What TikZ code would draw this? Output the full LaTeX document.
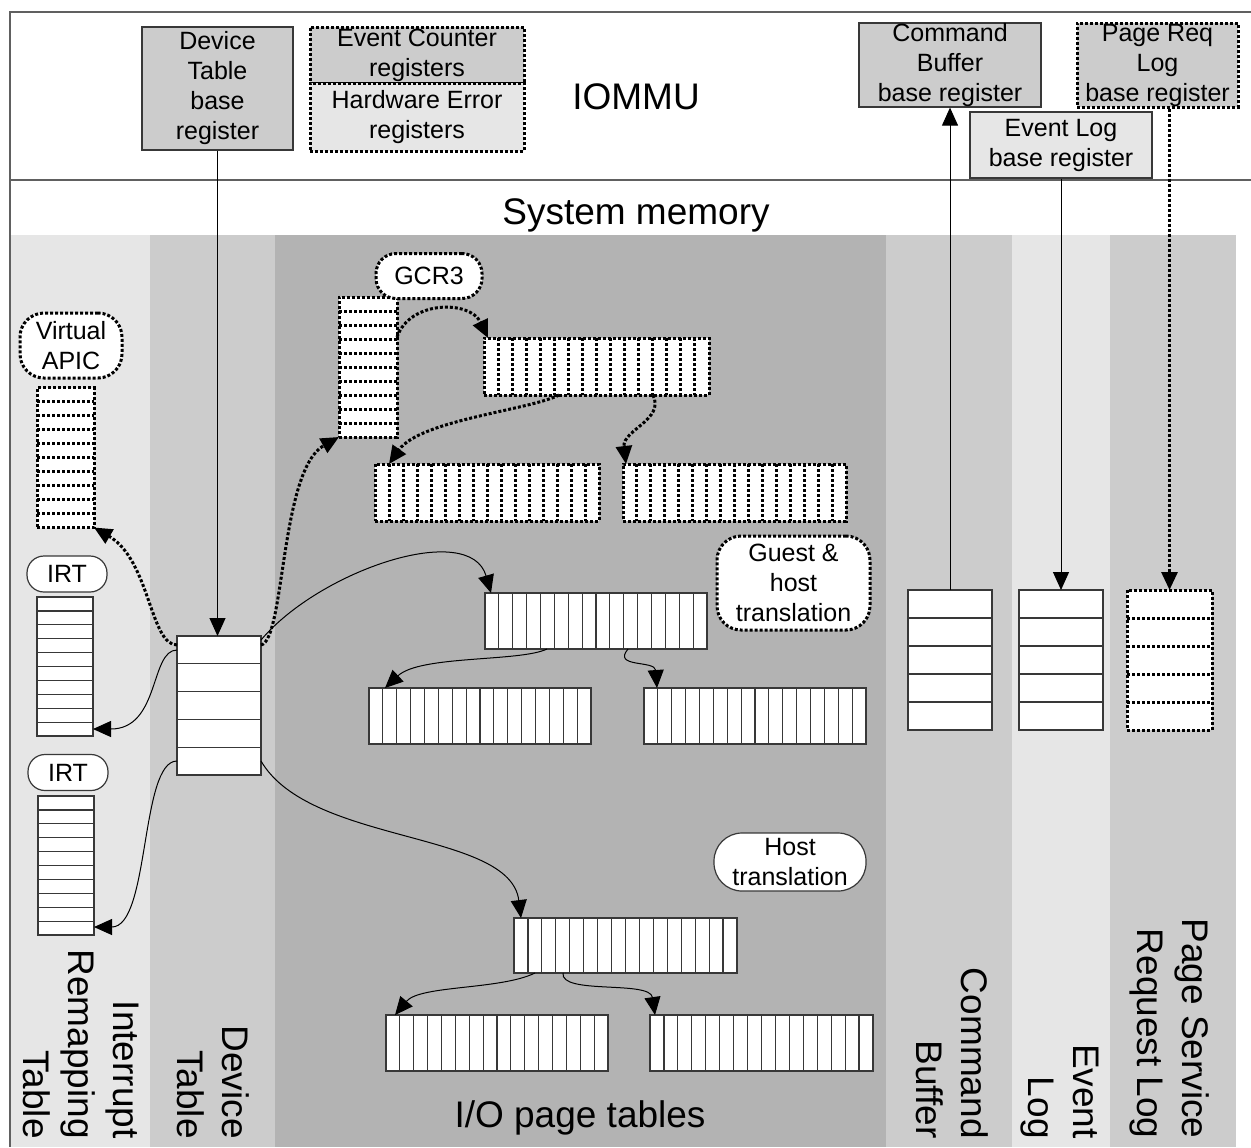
\documentclass[tikz,border=0pt]{standalone}
\usepackage{fontspec}
\setmainfont{Liberation Sans}
\usetikzlibrary{arrows.meta,calc}
\definecolor{cA}{HTML}{E6E6E6}
\definecolor{cB}{HTML}{CCCCCC}
\definecolor{cC}{HTML}{B3B3B3}
\definecolor{bord}{HTML}{383838}
\definecolor{frame}{HTML}{606060}
\tikzset{
  smalltxt/.style={font=\fontsize{12.5}{15}\selectfont, align=center},
  bigtxt/.style={font=\fontsize{18.5}{22.5}\selectfont},
  sline/.style={draw=bord, line width=0.6pt},
  dotline/.style={draw=black, line width=1.5pt, dash pattern=on 1.5pt off 1pt},
  regbox/.style={sline, inner sep=0pt},
  dregbox/.style={dotline, inner sep=0pt},
  tbl/.style={sline, fill=white, inner sep=0pt, outer sep=0pt},
  dtbl/.style={dotline, fill=white, inner sep=0pt, outer sep=0pt},
  rows/.style n args={2}{path picture={
    \foreach \i [evaluate=\i as \fr using \i/(#1+1)] in {1,...,#1}{
      \draw[#2] ($(path picture bounding box.north west)!\fr!(path picture bounding box.south west)$) --
                ($(path picture bounding box.north east)!\fr!(path picture bounding box.south east)$);}}},
  cols/.style n args={2}{path picture={
    \foreach \i [evaluate=\i as \fr using \i/(#1+1)] in {1,...,#1}{
      \draw[#2] ($(path picture bounding box.north west)!\fr!(path picture bounding box.north east)$) --
                ($(path picture bounding box.south west)!\fr!(path picture bounding box.south east)$);}}},
  bubble/.style={sline, fill=white, smalltxt, inner sep=0pt},
  dbubble/.style={dotline, fill=white, smalltxt, inner sep=0pt},
  conn/.style={draw=black, line width=0.5pt, -{Triangle[length=9pt,width=8pt]}},
  dconn/.style={dotline, -{Triangle[length=9pt,width=8pt]}},
  vlabel/.style={bigtxt, rotate=-90, anchor=east, align=right, inner sep=0pt},
}
\begin{document}
\begin{tikzpicture}[x=0.5pt,y=-0.5pt]
\useasboundingbox (0,0) rectangle (1251,1147);
% memory bands
\fill[cA] (10,235) rectangle (150,1147);
\fill[cB] (150,235) rectangle (275,1147);
\fill[cC] (275,235) rectangle (886,1147);
\fill[cB] (886,235) rectangle (1012,1147);
\fill[cA] (1012,235) rectangle (1110,1147);
\fill[cB] (1110,235) rectangle (1236,1147);
% frame
\draw[draw=frame, line width=0.6pt] (1251,12) -- (10,12) -- (10,1147);
\draw[draw=frame, line width=0.6pt] (10,180) -- (1251,180);
% titles
\node[bigtxt] (iommu) at (636,97) {IOMMU};
\node[bigtxt] (sysmem) at (636,215) {System memory};
\node[bigtxt] (iopt) at (580,1118) {I/O page tables};
% IOMMU registers
\node[regbox, fill=cB, minimum width=75.5pt, minimum height=61.5pt,
  label={[smalltxt]center:Device\\Table\\base\\register}] (dtb) at (217.5,88.5) {};
\node[dregbox, fill=cB, minimum width=107pt, minimum height=28pt,
  label={[smalltxt]center:Event Counter\\registers}] (ecr) at (417,55) {};
\node[dregbox, fill=cA, minimum width=107pt, minimum height=34pt,
  label={[smalltxt]center:Hardware Error\\registers}] (her) at (417,117) {};
\node[regbox, fill=cB, minimum width=91pt, minimum height=42pt,
  label={[smalltxt]center:Command\\Buffer\\base register}] (cbb) at (950,65) {};
\node[dregbox, fill=cB, minimum width=80.5pt, minimum height=42pt,
  label={[smalltxt]center:Page Req\\Log\\base register}] (prl) at (1157.5,65) {};
\node[regbox, fill=cA, minimum width=91pt, minimum height=33pt,
  label={[smalltxt]center:Event Log\\base register}] (elb) at (1061,145) {};
% tables
\node[dtbl, rows={9}{dotline}, minimum width=28.5pt, minimum height=70pt] (vapic) at (65.5,457.5) {};
\node[tbl, rows={9}{sline}, minimum width=28pt, minimum height=69.5pt] (irta) at (65,666.5) {};
\node[tbl, rows={9}{sline}, minimum width=28pt, minimum height=69.5pt] (irtb) at (66,865.5) {};
\node[tbl, rows={4}{sline}, minimum width=42pt, minimum height=69.5pt] (dt) at (219,705.5) {};
\node[dtbl, rows={9}{dotline}, minimum width=29pt, minimum height=70pt] (gcr) at (368,367) {};
\node[dtbl, cols={15}{dotline}, minimum width=112.5pt, minimum height=28.5pt] (gpt) at (596.5,366.5) {};
\node[dtbl, cols={15}{dotline}, minimum width=112pt, minimum height=28.5pt] (gpl) at (487,492.5) {};
\node[dtbl, cols={15}{dotline}, minimum width=111.5pt, minimum height=28.5pt] (gpr) at (734.5,492.5) {};
\node[tbl, cols={15}{sline}, minimum width=111pt, minimum height=28pt] (spt) at (596,621) {};
\node[tbl, cols={15}{sline}, minimum width=111pt, minimum height=28pt] (spl) at (480,716) {};
\node[tbl, cols={15}{sline}, minimum width=111pt, minimum height=28pt] (spr) at (755,716) {};
\node[tbl, cols={15}{sline}, minimum width=111.5pt, minimum height=27.5pt] (hpt) at (625.5,945.5) {};
\node[tbl, cols={15}{sline}, minimum width=111pt, minimum height=28pt] (hpl) at (497,1043) {};
\node[tbl, cols={15}{sline}, minimum width=111.5pt, minimum height=28pt] (hpr) at (761.5,1043) {};
\node[tbl, rows={4}{sline}, minimum width=42pt, minimum height=70pt] (cbt) at (950,660) {};
\node[tbl, rows={4}{sline}, minimum width=42pt, minimum height=70pt] (elt) at (1061,660) {};
\node[dtbl, rows={4}{dotline}, minimum width=42.5pt, minimum height=70pt] (ppr) at (1169.5,660) {};
% bubbles
\node[dbubble, rounded corners=12pt, minimum width=51pt, minimum height=32.5pt] (vapl) at (71,345.5) {Virtual\\APIC};
\node[bubble, rounded corners=8.5pt, minimum width=40pt, minimum height=18pt] (irtla) at (67,574) {IRT};
\node[bubble, rounded corners=8.5pt, minimum width=40pt, minimum height=18pt] (irtlb) at (68,772.5) {IRT};
\node[dbubble, rounded corners=10pt, minimum width=53pt, minimum height=22.5pt] (gcrl) at (429,276) {GCR3};
\node[dbubble, rounded corners=12pt, minimum width=76.5pt, minimum height=47pt] (ghl) at (793.5,583) {Guest \&\\host\\translation};
\node[bubble, rounded corners=14pt, minimum width=76pt, minimum height=29pt] (htl) at (790,862) {Host\\translation};
% vertical labels
\node[vlabel] (irtlab) at (81,1139) {Interrupt\\Remapping\\Table};
\node[vlabel] (dtlab) at (213,1139) {Device\\Table};
\node[vlabel] (cblab) at (952,1139) {Command\\Buffer};
\node[vlabel] (ellab) at (1060,1139) {Event\\Log};
\node[vlabel] (pprlab) at (1170,1139) {Page Service\\Request Log};
% straight connectors
\draw[conn] (dtb.south) -- (dtb.south |- dt.north);
\draw[conn] (cbt.north) -- (cbt.north |- cbb.south);
\draw[conn] (elb.south) -- (elb.south |- elt.north);
\draw[dconn] (ppr.north |- prl.south) -- (ppr.north);
% dotted (guest) connectors
\draw[dconn] ($(dt.north west)+(0,9)$) .. controls (150,645) and (150,560) .. (vapic.south east);
\draw[dconn] ($(dt.north east)+(0,9)$) .. controls (285,640) and (280,470) .. (gcr.south west);
\draw[dconn] ($(gcr.north east)+(0,40)$) .. controls (410,300) and (470,300) .. ($(gpt.north west)+(4,0)$);
\draw[dconn] ($(gpt.south west)+(75,0)$) .. controls (530,410) and (420,420) .. ($(gpl.north west)+(14,0)$);
\draw[dconn] ($(gpt.south west)+(169,0)$) .. controls (665,420) and (622,430) .. ($(gpr.north west)+(3,0)$);
% solid connectors
\draw[conn] ($(dt.north east)+(0,4)$) .. controls (320,570) and (470,520) .. ($(spt.north west)+(6,0)$);
\draw[conn] ($(spt.south west)+(62,0)$) .. controls (520,662) and (420,655) .. ($(spl.north west)+(16,0)$);
\draw[conn] ($(spt.south west)+(143,0)$) .. controls (612,668) and (655,660) .. ($(spr.north west)+(13,0)$);
\draw[conn] ($(dt.north west)+(0,14)$) .. controls (150,650) and (160,729) .. ($(irta.south east)+(0,-7)$);
\draw[conn] ($(dt.south west)+(0,-14)$) .. controls (140,761) and (150,927) .. ($(irtb.south east)+(0,-8)$);
\draw[conn] ($(dt.south east)+(0,-14)$) .. controls (310,845) and (510,830) .. ($(hpt.north west)+(7,0)$);
\draw[conn] ($(hpt.south west)+(21,0)$) .. controls (500,990) and (420,985) .. ($(hpl.north west)+(9,0)$);
\draw[conn] ($(hpt.south west)+(49,0)$) .. controls (560,995) and (650,980) .. ($(hpr.north west)+(5,0)$);
\end{tikzpicture}
\end{document}
